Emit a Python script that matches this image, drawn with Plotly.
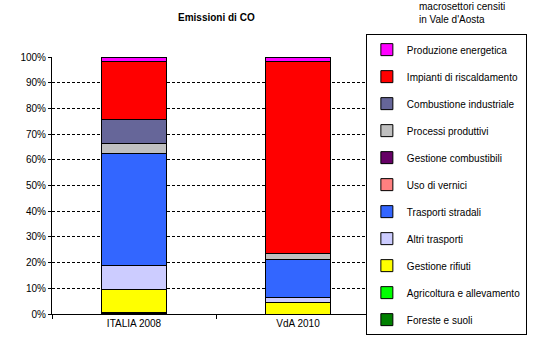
import plotly.graph_objects as go

categories = ["ITALIA 2008", "VdA 2010"]

# stack order bottom -> top
sectors = [
    "Foreste e suoli",
    "Agricoltura e allevamento",
    "Gestione rifiuti",
    "Altri trasporti",
    "Trasporti stradali",
    "Uso di vernici",
    "Gestione combustibili",
    "Processi produttivi",
    "Combustione industriale",
    "Impianti di riscaldamento",
    "Produzione energetica",
]
italia_2008 = [0.3, 0.1, 9.2, 9.4, 43.3, 0.0, 0.0, 4.2, 9.2, 22.7, 1.6]
vda_2010 = [0.0, 0.0, 4.3, 2.1, 14.9, 0.0, 0.0, 2.1, 0.0, 74.8, 1.8]
colors = [
    "#008000", "#00FF00", "#FFFF00", "#CCCCFF", "#3366FF", "#FF8080",
    "#660066", "#C0C0C0", "#666699", "#FF0000", "#FF00FF",
]

fig = go.Figure()
n = len(sectors)
for i, name in enumerate(sectors):
    fig.add_trace(go.Bar(
        x=categories,
        y=[italia_2008[i], vda_2010[i]],
        name=name,
        legendgroup=name,
        legendrank=n - i,
        marker=dict(color=colors[i], line=dict(color="black", width=1)),
    ))

pw = 539 - 52 - 152
fig.update_layout(
    barmode="stack",
    bargap=0.6,
    width=539, height=346,
    margin=dict(l=52, r=152, t=57, b=32),
    paper_bgcolor="white", plot_bgcolor="white",
    font=dict(family="Liberation Sans, Arial, sans-serif", size=10, color="black"),
    showlegend=True,
    legend=dict(
        x=(537 - 52) / pw, y=1.089, xanchor="right", yanchor="top",
        traceorder="grouped",
        bordercolor="black", borderwidth=1,
        bgcolor="white",
        font=dict(size=10),
        tracegroupgap=8,
        itemwidth=30,
        maxheight=1.0,
    ),
    annotations=[
        dict(text="<b>Emissioni di CO</b>", xref="paper", yref="paper", x=0.5, y=1.155,
             xanchor="center", yanchor="middle", showarrow=False,
             font=dict(size=10, color="black")),
        dict(text="macrosettori censiti<br>in Vale d'Aosta", xref="paper", yref="paper",
             x=(425 - 52) / pw, y=1.225, xanchor="left", yanchor="top", align="left",
             showarrow=False, font=dict(size=10, color="black")),
    ],
    xaxis=dict(
        type="category",
        tickson="boundaries",
        ticks="outside", ticklen=4, tickcolor="black",
        showline=True, linecolor="black", linewidth=1,
        showgrid=False,
        tickfont=dict(size=10),
    ),
    yaxis=dict(
        range=[0, 100],
        tickvals=[0, 10, 20, 30, 40, 50, 60, 70, 80, 90, 100],
        ticktext=[f"{v}%" for v in range(0, 101, 10)],
        ticks="outside", ticklen=3, tickcolor="black",
        showline=True, linecolor="black", linewidth=1,
        showgrid=True, gridcolor="black", gridwidth=1, griddash="3px,2px",
        zeroline=False,
        tickfont=dict(size=10),
    ),
)

fig.write_html("out.html")
